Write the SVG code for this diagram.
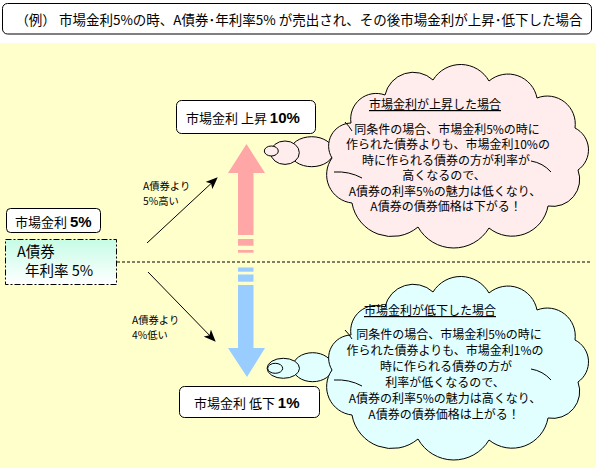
<svg xmlns="http://www.w3.org/2000/svg" width="596" height="468" viewBox="0 0 596 468">
<defs>
<style>
.t{font-family:'Noto Sans CJK JP','Noto Sans CJK SC',sans-serif;fill:#000}
.b{font-family:'Liberation Sans',Arial,sans-serif;font-weight:bold;font-size:15px}
.box{fill:#fff;stroke:#000;stroke-width:1}
.cl{stroke:#000;stroke-width:1}
.ct{font-size:12px;text-anchor:middle}
.inner{fill:none;stroke:#000;stroke-width:1}
.conn{stroke:#000;stroke-width:1;fill:none}
.lbl{font-size:10.3px}
</style>
<linearGradient id="gA" x1="0" y1="0" x2="0" y2="1">
<stop offset="0" stop-color="#C6FCE6"/>
<stop offset="1" stop-color="#FFFFFF"/>
</linearGradient>
<marker id="ah" markerWidth="12" markerHeight="10" refX="11" refY="5" orient="auto" markerUnits="userSpaceOnUse">
<path d="M0,0 L12,5 L0,10 L3,5 z" fill="#000"/>
</marker>
<path id="cloud" d="M332,158 A23,23 0 0 1 351,123 A25.5,25.5 0 0 1 385,95 A29,29 0 0 1 433,80 A32.5,32.5 0 0 1 489,81 A29.5,29.5 0 0 1 537,98 A28,28 0 0 1 575,128 A24.5,24.5 0 0 1 578,170 A27,27 0 0 1 548,206 A36.5,36.5 0 0 1 489,228 A41,41 0 0 1 418,227 A40.5,40.5 0 0 1 352,203 A28.5,28.5 0 0 1 332,158 Z"/>
<path id="cloudIn" d="M334,172 Q349,171 362,178 M531,161 Q543,163 551,172 M345,122 Q349,126 352,131"/>
</defs>

<rect id="background" x="0" y="43" width="596" height="425" fill="#FFFFCC"/>

<g id="title">
<rect class="box" x="2.5" y="3.5" width="589" height="30.5" rx="5"/>
<text class="t" x="299" y="25" font-size="13.5" text-anchor="middle">（例） 市場金利5%の時、A債券･年利率5% が売出され、その後市場金利が上昇･低下した場合</text>
</g>

<g id="node-rate5">
<rect class="box" x="6.5" y="208.5" width="94" height="24" rx="4"/>
<text class="t" x="15" y="227" font-size="13">市場金利 <tspan class="b">5%</tspan></text>
</g>

<g id="node-bondA">
<rect x="5.5" y="239.5" width="111" height="45" fill="url(#gA)" stroke="#000" stroke-width="1" stroke-dasharray="6 2 2 2"/>
<text class="t" x="17" y="257" font-size="14.5">A債券</text>
<text class="t" x="25" y="276" font-size="14.5">年利率 5%</text>
</g>

<g id="node-rise">
<rect class="box" x="176.5" y="100.5" width="139" height="33" rx="5"/>
<text class="t" x="186" y="123" font-size="13">市場金利 上昇 <tspan class="b">10%</tspan></text>
</g>

<g id="node-fall">
<rect class="box" x="179.5" y="386.5" width="140" height="31" rx="5"/>
<text class="t" x="194" y="408" font-size="13">市場金利 低下 <tspan class="b">1%</tspan></text>
</g>

<g id="arrow-up">
<path d="M246.5,144 L265,173 L253.5,173 L253.5,235 L238,235 L238,173 L228,173 Z" fill="#FFA6A6"/>
<rect x="238" y="239" width="15.5" height="6.7" fill="#FFA6A6"/>
<rect x="238" y="250" width="15.5" height="2.7" fill="#FFA6A6"/>
</g>

<g id="arrow-down">
<rect x="238" y="267.5" width="15.5" height="4.2" fill="#99CCFF"/>
<rect x="238" y="274.5" width="15.5" height="7.2" fill="#99CCFF"/>
<path d="M238,285 L253.5,285 L253.5,348 L265,348 L247,377 L228,348 L238,348 Z" fill="#99CCFF"/>
</g>

<g id="connectors">
<line class="conn" x1="117" y1="262" x2="592" y2="262" stroke-dasharray="3 2"/>
<line class="conn" x1="147" y1="243" x2="217" y2="178" marker-end="url(#ah)"/>
<line class="conn" x1="148" y1="272" x2="215" y2="341" marker-end="url(#ah)"/>
<text class="t lbl" x="143" y="189.5">A債券より</text>
<text class="t lbl" x="143" y="204.5">5%高い</text>
<text class="t lbl" x="132" y="323.5">A債券より</text>
<text class="t lbl" x="132" y="338.5">4%低い</text>
</g>

<g id="cloud-rise">
<ellipse class="cl" cx="311.7" cy="151.7" rx="21.7" ry="15" fill="#FFECEC"/>
<ellipse class="cl" cx="285" cy="152.7" rx="14.3" ry="11.7" fill="#FFECEC"/>
<ellipse class="cl" cx="271.3" cy="151" rx="7" ry="5" fill="#FFECEC"/>
<use href="#cloud" class="cl" fill="#FFECEC"/>
<use href="#cloudIn" class="inner"/>
<text class="t ct" x="435" y="109" text-decoration="underline">市場金利が上昇した場合</text>
<text class="t ct" x="447" y="133.5">同条件の場合、市場金利5%の時に</text>
<text class="t ct" x="448" y="149">作られた債券よりも、市場金利10%の</text>
<text class="t ct" x="446" y="164.5">時に作られる債券の方が利率が</text>
<text class="t ct" x="444" y="180">高くなるので、</text>
<text class="t ct" x="445" y="195.5">A債券の利率5%の魅力は低くなり、</text>
<text class="t ct" x="446" y="211">A債券の債券価格は下がる！</text>
</g>

<g id="cloud-fall">
<ellipse class="cl" cx="312.7" cy="367.2" rx="20" ry="14.5" fill="#E1FFFF"/>
<ellipse class="cl" cx="283.3" cy="368.3" rx="16.2" ry="10" fill="#E1FFFF"/>
<ellipse class="cl" cx="275.2" cy="368.3" rx="7.5" ry="5" fill="#E1FFFF"/>
<use href="#cloud" class="cl" fill="#E1FFFF" transform="translate(0,212)"/>
<use href="#cloudIn" class="inner" transform="translate(0,208)"/>
<text class="t ct" x="430" y="315" text-decoration="underline">市場金利が低下した場合</text>
<text class="t ct" x="449" y="339">同条件の場合、市場金利5%の時に</text>
<text class="t ct" x="445" y="355">作られた債券よりも、市場金利1%の</text>
<text class="t ct" x="446" y="371">時に作られる債券の方が</text>
<text class="t ct" x="445" y="387">利率が低くなるので、</text>
<text class="t ct" x="445" y="403">A債券の利率5%の魅力は高くなり、</text>
<text class="t ct" x="444" y="419">A債券の債券価格は上がる！</text>
</g>
</svg>
